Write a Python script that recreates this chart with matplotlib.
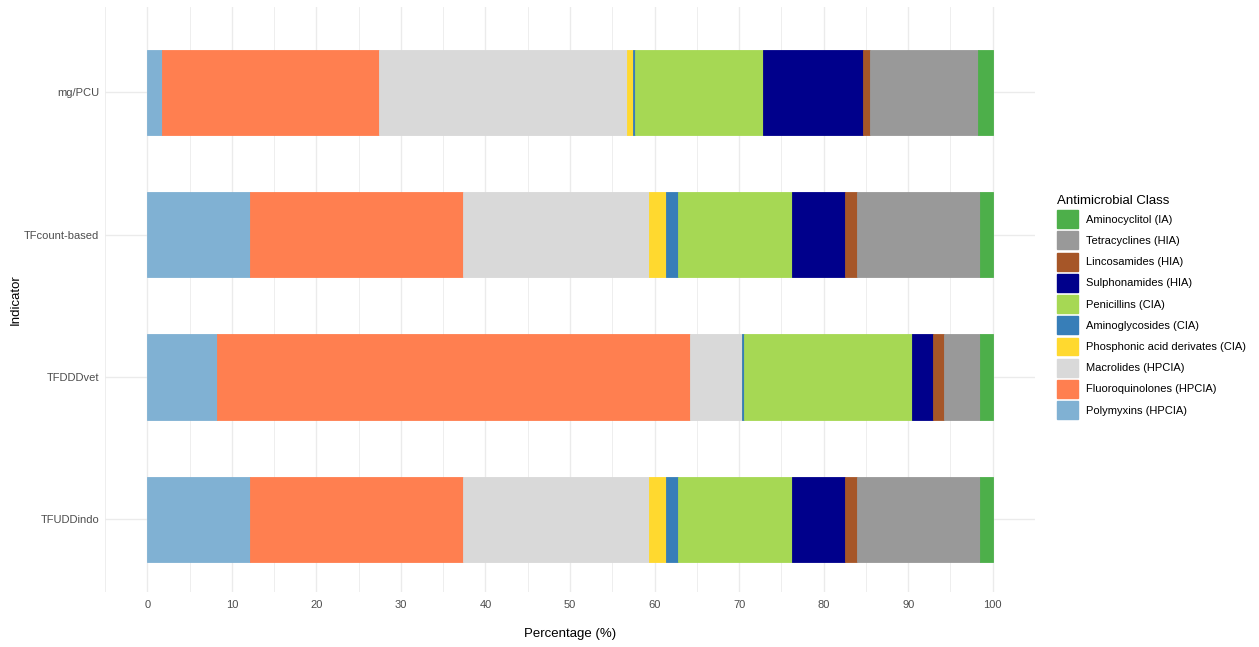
import numpy as np
import matplotlib
matplotlib.use("Agg")
import matplotlib.pyplot as plt
from matplotlib.patches import Patch

plt.rcParams['font.family'] = ['Liberation Sans', 'DejaVu Sans']

indicators = ['TFUDDindo', 'TFDDDvet', 'TFcount-based', 'mg/PCU']

# stacking order, left to right
classes = ['Polymyxins (HPCIA)', 'Fluoroquinolones (HPCIA)', 'Macrolides (HPCIA)',
           'Phosphonic acid derivates (CIA)', 'Aminoglycosides (CIA)', 'Penicillins (CIA)',
           'Sulphonamides (HIA)', 'Lincosamides (HIA)', 'Tetracyclines (HIA)',
           'Aminocyclitol (IA)']
colors = ['#80B1D3', '#FF7F50', '#D9D9D9', '#FFD92F', '#377EB8', '#A6D854',
          '#00008B', '#A65628', '#999999', '#4DAF4A']

# percentages per indicator, in the order of `indicators`
polymyxins       = [12.1,  8.2, 12.1,  1.7]
fluoroquinolones = [25.2, 56.0, 25.2, 25.7]
macrolides       = [22.0,  6.2, 22.0, 29.4]
phosphonic       = [ 2.1,  0.0,  2.1,  0.6]
aminoglycosides  = [ 1.4,  0.2,  1.4,  0.3]
penicillins      = [13.4, 19.8, 13.4, 15.1]
sulphonamides    = [ 6.3,  2.5,  6.3, 11.8]
lincosamides     = [ 1.4,  1.3,  1.4,  0.9]
tetracyclines    = [14.6,  4.3, 14.6, 12.8]
aminocyclitol    = [ 1.5,  1.5,  1.5,  1.7]

values = [polymyxins, fluoroquinolones, macrolides, phosphonic, aminoglycosides,
          penicillins, sulphonamides, lincosamides, tetracyclines, aminocyclitol]

fig = plt.figure(figsize=(12.59, 6.47), dpi=100)
ax = fig.add_axes([105 / 1259, 55 / 647, 930 / 1259, 585 / 647])

y = np.arange(1, len(indicators) + 1)
left = np.zeros(len(indicators))
for name, vals, col in zip(classes, values, colors):
    vals = np.array(vals)
    ax.barh(y, vals, left=left, height=0.6, color=col, edgecolor=col,
            linewidth=0.6, label=name, zorder=3)
    left += vals

ax.set_xlim(-5, 105)
ax.set_ylim(0.49, 4.60)
ax.set_xticks(np.arange(0, 101, 10))
ax.set_xticks(np.arange(-5, 106, 10), minor=True)
ax.set_yticks(y)
ax.set_yticklabels(indicators)

ax.grid(True, which='major', color='#EBEBEB', linewidth=1.0, zorder=0)
ax.grid(True, which='minor', axis='x', color='#EBEBEB', linewidth=0.6, zorder=0)
for s in ax.spines.values():
    s.set_visible(False)
ax.tick_params(which='both', length=0, labelsize=8, labelcolor='#4D4D4D')
ax.tick_params(axis='x', pad=6)
ax.tick_params(axis='y', pad=4)

ax.set_xlabel('Percentage (%)', fontsize=9.5, labelpad=13)
ax.set_ylabel('Indicator', fontsize=9.5, labelpad=2)

handles = [Patch(facecolor=c, edgecolor=c) for c in colors][::-1]
labels = classes[::-1]
leg = fig.legend(handles, labels, title='Antimicrobial Class', loc='upper left',
                 bbox_to_anchor=(1048 / 1259, 1 - 186 / 647), frameon=False,
                 fontsize=8, title_fontsize=9.5, handlelength=1.9, handleheight=2.1,
                 labelspacing=0.3, handletextpad=0.75, borderpad=0.3)
leg._legend_box.align = 'left'

fig.savefig('out.png', dpi=100)
